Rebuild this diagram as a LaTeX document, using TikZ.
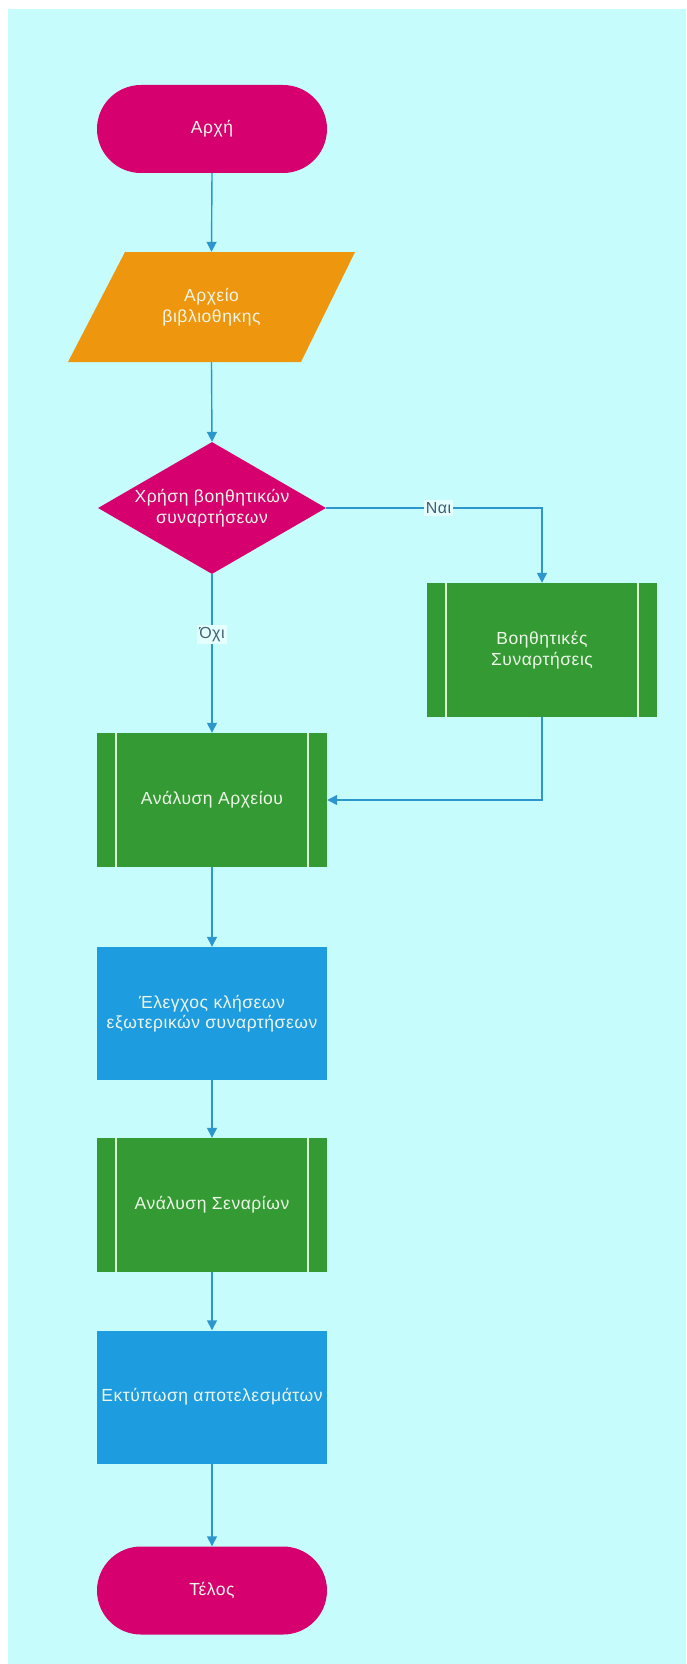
\documentclass[tikz,border=0pt]{standalone}
\usepackage{fontspec}
\setmainfont{Liberation Sans}[LetterSpace=3]
\usetikzlibrary{shapes.geometric,arrows.meta}
\definecolor{bgcyan}{RGB}{198,253,252}
\definecolor{mag}{RGB}{214,0,110}
\definecolor{orng}{RGB}{238,150,14}
\definecolor{grn}{RGB}{52,155,52}
\definecolor{blu}{RGB}{30,156,224}
\definecolor{conncol}{RGB}{45,150,205}
\definecolor{txtcol}{RGB}{238,246,232}
\definecolor{lblcol}{RGB}{65,95,115}
\definecolor{inlinecol}{RGB}{222,245,212}
\begin{document}
\begin{tikzpicture}[x=1pt,y=-1pt,
 every node/.style={font=\fontsize{17.5}{20.5}\selectfont, text=txtcol, align=center, inner sep=0pt},
 termbox/.style={rectangle, rounded corners=44pt, fill=mag, minimum width=230pt, minimum height=88pt},
 iobox/.style={rectangle, minimum width=233pt, minimum height=110pt},
 decbox/.style={diamond, fill=mag, minimum width=228pt, minimum height=132pt, aspect=1.727},
 subbox/.style={rectangle, fill=grn, minimum width=230pt, minimum height=134pt},
 procbox/.style={rectangle, fill=blu, minimum width=230pt, minimum height=133pt},
 subline/.style={draw=inlinecol, line width=1.6pt},
 conn/.style={draw=conncol, line width=1.4pt, -{Triangle[length=10pt,width=10pt]}},
 lbl/.style={fill=white!55!bgcyan, text=lblcol, inner sep=2pt, font=\fontsize{16}{18}\selectfont}
]
\useasboundingbox (0,0) rectangle (686,1664);
\fill[white] (0,0) rectangle (686,1664);
\fill[bgcyan] (8,9) rectangle (686,1664);

\node[termbox] (start) at (212,129) {Αρχή};
\fill[orng] (68,362) -- (301,362) -- (355,252) -- (125,252) -- cycle;
\node[iobox] (lib) at (211.5,307) {Αρχείο\\βιβλιοθηκης};
\node[decbox] (dec) at (212,508) {Χρήση βοηθητικών\\συναρτήσεων};
\node[subbox] (aux) at (542,650) {Βοηθητικές\\Συναρτήσεις};
\node[subbox] (ana) at (212,800) {Ανάλυση Αρχείου};
\node[procbox] (chk) at (212,1013.5) {Έλεγχος κλήσεων\\εξωτερικών συναρτήσεων};
\node[subbox] (scen) at (212,1205) {Ανάλυση Σεναρίων};
\node[procbox] (prt) at (212,1397) {Εκτύπωση αποτελεσμάτων};
\node[termbox] (end) at (212,1590.5) {Τέλος};

\foreach \b in {aux,ana,scen}{
  \draw[subline] ([xshift=19pt]\b.north west) -- ([xshift=19pt]\b.south west);
  \draw[subline] ([xshift=-19pt]\b.north east) -- ([xshift=-19pt]\b.south east);
}

\draw[conn] (start.south) -- (lib.north);
\draw[conn] (lib.south) -- (dec.north);
\draw[conn] (dec.east) -| node[lbl,pos=0.26] (yes) {Ναι} (aux.north);
\draw[conn] (dec.south) -- node[lbl,pos=0.38] (no) {Όχι} (ana.north);
\draw[conn] (aux.south) |- (ana.east);
\draw[conn] (ana.south) -- (chk.north);
\draw[conn] (chk.south) -- (scen.north);
\draw[conn] (scen.south) -- (prt.north);
\draw[conn] (prt.south) -- (end.north);
\end{tikzpicture}
\end{document}
